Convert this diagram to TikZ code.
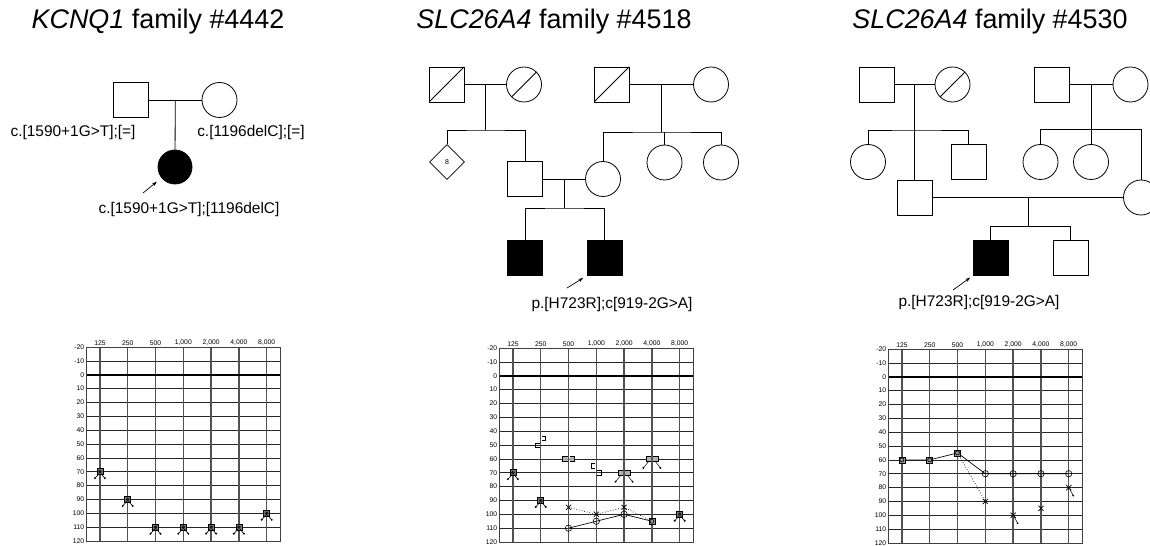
\documentclass[tikz,border=0pt]{standalone}
\usepackage{fontspec}
\setmainfont{Liberation Sans}
\usetikzlibrary{arrows.meta,shapes.geometric}

\begin{document}
\begin{tikzpicture}[
  x=1bp, y=-1bp,
  line width=0.8bp,
  male/.style={rectangle, draw, minimum size=35bp, inner sep=0pt},
  female/.style={circle, draw, minimum size=35bp, inner sep=0pt},
  sibs/.style={diamond, draw, minimum size=35bp, inner sep=0pt, font=\fontsize{7}{8}\selectfont},
  aff/.style={fill=black},
  dead/.style={path picture={\draw (path picture bounding box.south west) -- (path picture bounding box.north east);}},
  title/.style={font=\fontsize{27}{32}\selectfont},
  geno/.style={font=\fontsize{15.5}{18}\selectfont, inner sep=1bp},
  tick/.style={font=\fontsize{6.8}{8}\selectfont, inner sep=1.5bp},
  probe/.style={-{Stealth[length=5bp,width=3.5bp]}, line width=0.7bp},
  aud/.style={shift={#1}, x=27.8bp, y=-1.386bp},
  vline/.style={black!68, line width=1.3bp},
  hline/.style={black!85, line width=0.6bp},
  rt/.pic={\begin{scope}[x=1bp,y=-1bp,line width=0.6bp]
    \draw (0,0) circle (3.2);
  \end{scope}},
  lt/.pic={\begin{scope}[x=1bp,y=-1bp,line width=0.7bp]
    \draw (-2.6,-2.6) -- (2.6,2.6) (-2.6,2.6) -- (2.6,-2.6);
  \end{scope}},
  xnr/.pic={\begin{scope}[x=1bp,y=-1bp,line width=0.7bp]
    \draw (-2.6,-2.6) -- (2.6,2.6) (-2.6,2.6) -- (2.6,-2.6);
    \draw[line width=0.5bp] (1,1.5) -- (4.5,8);
    \fill (4.5,8) circle (1);
  \end{scope}},
  bx/.pic={\begin{scope}[x=1bp,y=-1bp,line width=0.6bp]
    \draw[fill=black!40] (-3,-3) rectangle (3,3);
    \draw (0,0) circle (2);
  \end{scope}},
  nr/.pic={\begin{scope}[x=1bp,y=-1bp,line width=0.6bp]
    \draw[fill=black!55] (-3,-3) rectangle (3,3);
    \fill[black!90] (0,0) circle (1.9);
    \draw (-1,2) -- (-5,6.5) (1,2) -- (5,6.5);
    \fill (-5,6.5) circle (1.1) (5,6.5) circle (1.1);
  \end{scope}},
  bl/.pic={\begin{scope}[x=1bp,y=-1bp,line width=0.6bp]
    \draw (-1,-2.2) -- (-5,-2.2) -- (-5,2.2) -- (-1,2.2);
  \end{scope}},
  br/.pic={\begin{scope}[x=1bp,y=-1bp,line width=0.6bp]
    \draw (1,-2.2) -- (5,-2.2) -- (5,2.2) -- (1,2.2);
  \end{scope}},
  bb/.pic={\begin{scope}[x=1bp,y=-1bp,line width=0.6bp]
    \draw[fill=black!30] (-1,-2.2) -- (-6,-2.2) -- (-6,2.2) -- (-1,2.2)
      (1,-2.2) -- (6,-2.2) -- (6,2.2) -- (1,2.2);
  \end{scope}},
  bbnr/.pic={\begin{scope}[x=1bp,y=-1bp,line width=0.6bp]
    \draw[fill=black!30] (-1,-2.2) -- (-6,-2.2) -- (-6,2.2) -- (-1,2.2)
      (1,-2.2) -- (6,-2.2) -- (6,2.2) -- (1,2.2);
    \draw[line width=0.5bp] (-3,2.2) -- (-8.5,9) (3,2.2) -- (8.5,9);
    \fill (-8.5,9) circle (1.1) (8.5,9) circle (1.1);
  \end{scope}}
]
\useasboundingbox (0,0) rectangle (1150,546);
\clip (0,0) rectangle (1150,546);

\node[title] (t1) at (158,22) {\textit{KCNQ1} family \#4442};
\node[title] (t2) at (554,22) {\textit{SLC26A4} family \#4518};
\node[title] (t3) at (990,22) {\textit{SLC26A4} family \#4530};

\node[male] (f1) at (131,100) {};
\node[female] (m1) at (219.5,100) {};
\node[female, aff, minimum size=34bp] (p1) at (175,167) {};
\draw (f1) -- (m1) coordinate[midway] (fm1);
\draw (fm1) -- (p1);
\node[geno] (g1a) at (73,133) {c.[1590+1G>T];[=]};
\node[geno] (g1b) at (251,133) {c.[1196delC];[=]};
\node[geno] (g1c) at (189,210) {c.[1590+1G>T];[1196delC]};
\coordinate (a1) at (143,193);
\draw[probe, shorten >=6bp] (a1) -- (p1);

\node[male, dead] (gf2) at (446.5,84.5) {};
\node[female, dead] (gm2) at (524,84.5) {};
\node[sibs] (sb2) at (447,162) {8};
\node[male] (fa2) at (525,179) {};
\node[male, dead] (gf2b) at (611.5,84.5) {};
\node[female] (gm2b) at (711,84.5) {};
\node[female] (mo2) at (603,179) {};
\node[female] (au2a) at (664.5,162.5) {};
\node[female] (au2b) at (721,162.5) {};
\node[male, aff] (pb2) at (604.5,258) {};
\node[male, aff] (br2) at (525,258) {};
\draw (gf2) -- (gm2) coordinate[midway] (c2a);
\draw (c2a) -- ++(0,45.5) coordinate (s2a);
\draw (sb2.north) |- (s2a) -| (fa2.north);
\draw (gf2b) -- (gm2b) coordinate[midway] (c2b);
\draw (c2b) -- ++(0,47.5) coordinate (s2b);
\draw (mo2.north) |- (s2b) -| (au2b.north);
\draw (au2a.north) -- (au2a.north |- s2b);
\draw (fa2) -- (mo2) coordinate[midway] (c2c);
\draw (c2c) -- ++(0,29) coordinate (s2c);
\draw (br2.north) |- (s2c) -| (pb2.north);
\node[geno] (g2) at (612,305) {p.[H723R];c[919-2G>A]};
\coordinate (a2) at (567,288);
\draw[probe, shorten >=4bp] (a2) -- (pb2.south west);

\node[male] (gf3) at (877,84.5) {};
\node[female, dead] (gm3) at (952.5,84.5) {};
\node[female] (au3a) at (868,162) {};
\node[male] (un3) at (968.5,162) {};
\node[male] (fa3) at (915,197.5) {};
\node[male] (gf3b) at (1051.5,84.5) {};
\node[female] (gm3b) at (1130.5,84.5) {};
\node[female] (au3b) at (1040.5,162) {};
\node[female] (au3c) at (1091,162) {};
\node[female] (mo3) at (1141,197.5) {};
\node[male, aff] (pb3) at (990.5,258) {};
\node[male] (br3) at (1070.5,258) {};
\draw (gf3) -- (gm3) coordinate[midway] (c3a);
\draw (c3a) -- (c3a |- fa3.north);
\path (c3a) ++(0,45.5) coordinate (s3a);
\draw (au3a.north) |- (s3a) -| (un3.north);
\draw (gf3b) -- (gm3b) coordinate[midway] (c3b);
\draw (c3b) -- ++(0,45) coordinate (s3b);
\draw (au3b.north) |- (s3b) -| (mo3.north);
\draw (au3c.north) -- (au3c.north |- s3b);
\draw (fa3) -- (mo3) coordinate[midway] (c3c);
\draw (c3c) -- ++(0,29) coordinate (s3c);
\draw (pb3.north) |- (s3c) -| (br3.north);
\node[geno] (g3) at (979,303) {p.[H723R];c[919-2G>A]};
\coordinate (a3) at (953,290);
\draw[probe, shorten >=3bp] (a3) -- (pb3.south west);

\foreach \ox/\oy [count=\k] in {99.9bp/374.7bp, 512.9bp/375.7bp, 901.9bp/376.7bp}{
  \begin{scope}[aud={(\ox,-\oy)}]
    \foreach \d in {-10,10,20,...,110} \draw[hline] (-0.5,\d) -- (6.5,\d);
    \foreach \i in {0,...,6} \draw[vline] (\i,-20) -- (\i,120);
    \draw[line width=1.6bp] (-0.5,0) -- (6.5,0);
    \draw[black!75] (-0.5,-20) rectangle (6.5,120);
    \foreach \d in {-20,-10,...,120} \node[tick, left] (db\k\d) at (-0.5,\d) {\d};
    \foreach \f [count=\i from 0] in {125,250,500,{1,000},{2,000},{4,000},{8,000}}
      \node[tick, above] (hz\k\i) at (\i,-20) {\f};
  \end{scope}
}

\begin{scope}[aud={(99.9bp,-374.7bp)}]
  \foreach \i/\d in {0/70,1/90,2/110,3/110,4/110,5/110,6/100} \pic at (\i,\d) {nr};
\end{scope}

\begin{scope}[aud={(512.9bp,-375.7bp)}]
  \draw[line width=0.7bp] (2,110) -- (3,105) -- (4,100) -- (5,105);
  \draw[line width=0.7bp, dotted] (2,95) -- (3,100) -- (4,95) -- (5,105);
  \foreach \i/\d in {0/70,1/90,6/100} \pic at (\i,\d) {nr};
  \foreach \i/\d in {2/110,3/105,4/100} \pic at (\i,\d) {rt};
  \foreach \i/\d in {2/95,3/100,4/95} \pic at (\i,\d) {lt};
  \pic at (5,105) {bx};
  \pic at (1,50) {bl};
  \pic at (1,45) {br};
  \pic at (2,60) {bb};
  \pic at (3,65) {bl};
  \pic at (3,70) {br};
  \pic at (4,70) {bbnr};
  \pic at (5,60) {bbnr};
\end{scope}

\begin{scope}[aud={(901.9bp,-376.7bp)}]
  \draw[line width=0.7bp] (0,60) -- (1,60) -- (2,55) -- (3,70) -- (6,70);
  \draw[line width=0.7bp, dotted] (2,55) -- (3,90);
  \foreach \i/\d in {0/60,1/60,2/55} \pic at (\i,\d) {bx};
  \foreach \i in {3,...,6} \pic at (\i,70) {rt};
  \pic at (3,90) {lt};
  \pic at (5,95) {lt};
  \pic at (4,100) {xnr};
  \pic at (6,80) {xnr};
\end{scope}
\end{tikzpicture}
\end{document}
